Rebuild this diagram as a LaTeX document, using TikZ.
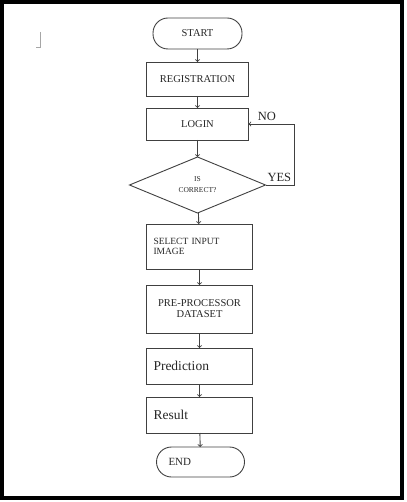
\documentclass[tikz,border=0pt]{standalone}
\usepackage{fontspec}
\setmainfont{Liberation Serif}
\usetikzlibrary{shapes.geometric,positioning}

\begin{document}
\begin{tikzpicture}[x=1pt, y=-1pt, line width=0.9pt, draw=black!75, text=black!85,
    every node/.style={outer sep=0pt},
    box/.style={draw, rectangle, minimum width=106pt, inner sep=0pt, font=\fontsize{10.5}{11}\selectfont},
    term/.style={draw, rectangle, rounded corners=15pt, inner sep=0pt, font=\fontsize{10.5}{11}\selectfont},
    lbl/.style={font=\fontsize{12.5}{14}\selectfont}]
  \useasboundingbox (0,0) rectangle (406,502);
  \draw [black, line width=4pt] (2,2) rectangle (402,498);
  \draw [black!35, line width=0.6pt] (40.5,32) -- (40.5,47) -- (36,47);

  \node (start) [term, minimum width=89pt, minimum height=31pt] at (197.5,33.5) {START};
  \node (reg) [box, below=13pt of start, minimum width=102pt, minimum height=34pt] {REGISTRATION};
  \node (login) [box, below=12pt of reg, minimum width=102pt, minimum height=32pt] {LOGIN};
  \node (check) [draw, diamond, below=17pt of login, aspect=2.4, minimum width=136pt, minimum height=56pt, inner sep=0pt, align=center, font=\fontsize{7.5}{11}\selectfont] {IS\\CORRECT?};
  \node (select) [box, below=11pt of check, xshift=2pt, minimum height=45pt, text width=92pt, inner xsep=7pt, align=left, font=\fontsize{9.5}{10}\selectfont] {SELECT INPUT\\IMAGE};
  \node (prep) [box, below=16pt of select, minimum height=48pt, align=center] {PRE-PROCESSOR\\DATASET};
  \node (pred) [box, below=15pt of prep, minimum height=36pt, text width=92pt, inner xsep=7pt, align=left, font=\fontsize{13.5}{15}\selectfont] {Prediction};
  \node (result) [box, below=13pt of pred, minimum height=36pt, text width=92pt, inner xsep=7pt, align=left, font=\fontsize{13.5}{15}\selectfont] {Result};
  \node (stop) [term, below=14pt of result, xshift=1pt, minimum width=88pt, minimum height=30pt, text width=64pt, inner xsep=12pt, align=left, font=\fontsize{11}{12}\selectfont] {END};

  \draw [->] (start) -- (reg);
  \draw [->] (reg) -- (login);
  \draw [->] (login) -- (check);
  \draw [->] (check) -- (select);
  \draw [->] (select) -- (prep);
  \draw [->] (prep) -- (pred);
  \draw [->] (pred) -- (result);
  \draw [->] (result) -- (stop);
  \draw [->] (check.east) -- ++(29pt,0) node [lbl, above left] (yes) {YES}
    |- (login.east) node [lbl, pos=0.8, above] (no) {NO};
\end{tikzpicture}
\end{document}
